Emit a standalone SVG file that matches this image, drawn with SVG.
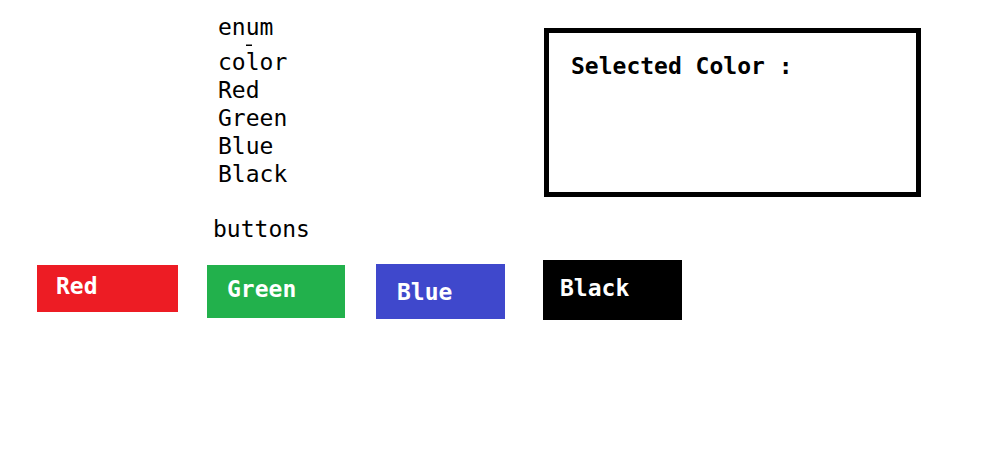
<svg xmlns="http://www.w3.org/2000/svg" width="1008" height="450" viewBox="0 0 1008 450">
<style>
.t{font-family:"DejaVu Sans Mono","Liberation Mono",monospace;font-size:23px;fill:#000}
.b{font-family:"DejaVu Sans Mono","Liberation Mono",monospace;font-size:23px;font-weight:bold;fill:#fff}
</style>
<rect width="1008" height="450" fill="#fff"/>
<g id="enum">
<text class="t" x="218" y="35">enum</text>
<rect x="246" y="44.5" width="6" height="1.5" fill="#000"/>
<text class="t" x="218" y="70">color</text>
<text class="t" x="218" y="98">Red</text>
<text class="t" x="218" y="126">Green</text>
<text class="t" x="218" y="154">Blue</text>
<text class="t" x="218" y="182">Black</text>
</g>
<g id="selected">
<rect x="546.5" y="30.5" width="372" height="164" fill="none" stroke="#000" stroke-width="5"/>
<text class="t" x="571" y="74" style="font-weight:bold">Selected Color :</text>
</g>
<g id="buttons-label"><text class="t" x="213" y="237">buttons</text></g>
<g id="btn-red"><rect x="37" y="265" width="141" height="47" fill="#ED1C24"/><text class="b" x="56" y="294">Red</text></g>
<g id="btn-green"><rect x="207" y="265" width="138" height="53" fill="#22B14C"/><text class="b" x="227" y="297">Green</text></g>
<g id="btn-blue"><rect x="376" y="264" width="129" height="55" fill="#3F48CC"/><text class="b" x="397" y="300">Blue</text></g>
<g id="btn-black"><rect x="543" y="260" width="139" height="60" fill="#000"/><text class="b" x="560" y="296">Black</text></g>
<g id="connectors"/>
</svg>
